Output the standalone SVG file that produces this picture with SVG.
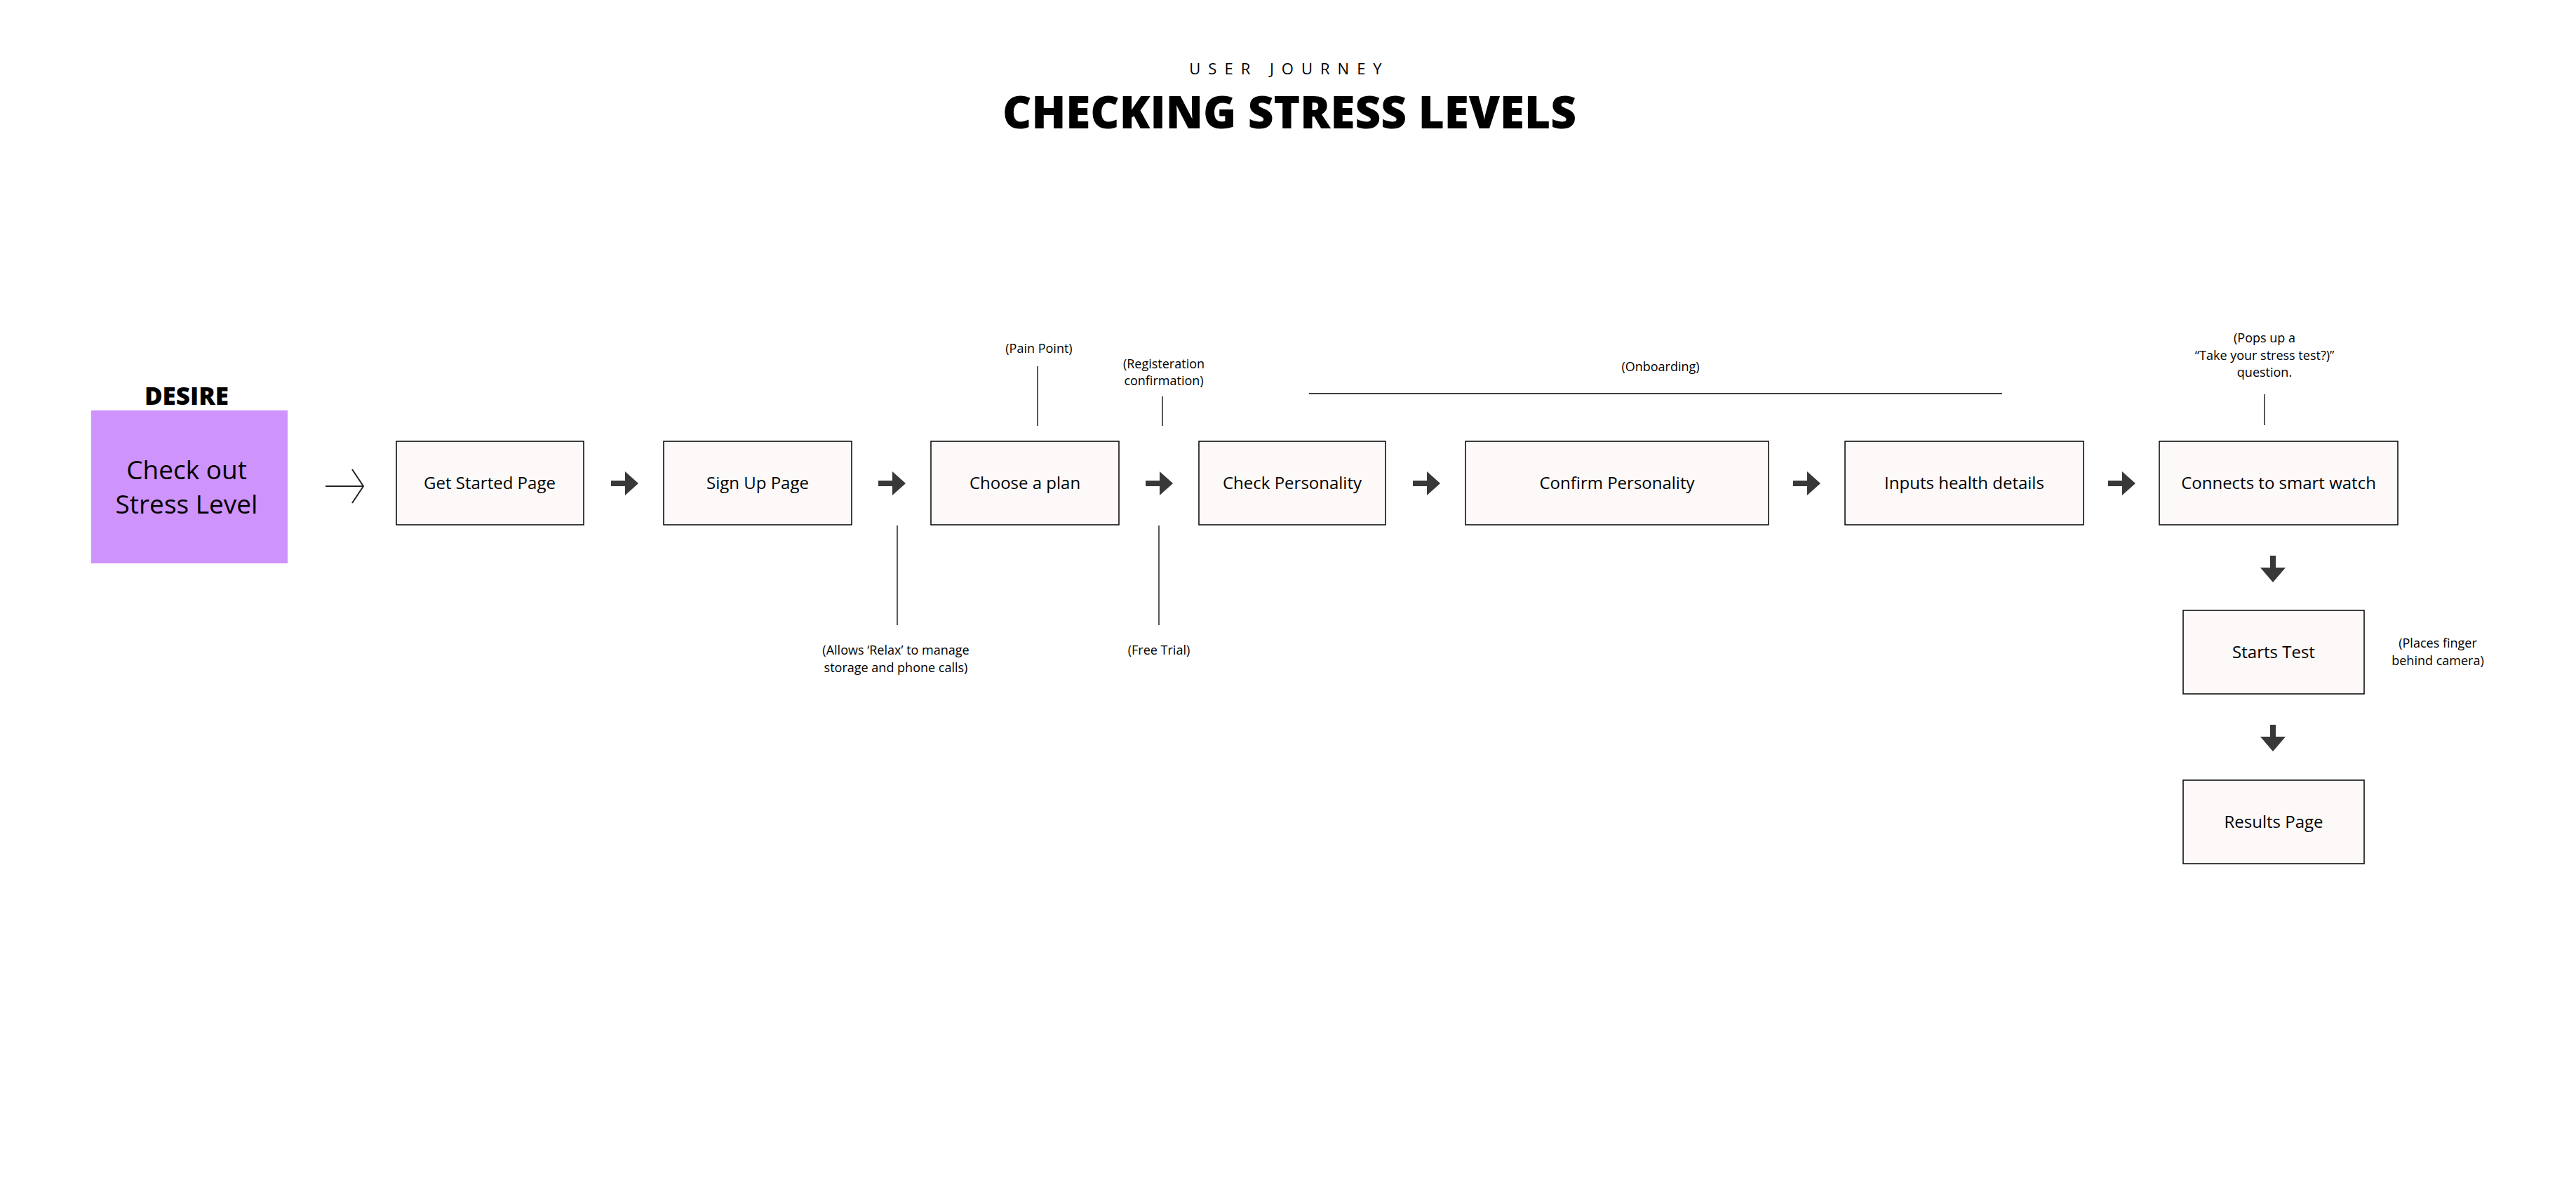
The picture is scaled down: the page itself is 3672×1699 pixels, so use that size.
<svg xmlns="http://www.w3.org/2000/svg" xmlns:xlink="http://www.w3.org/1999/xlink" width="3672" height="1699" viewBox="0 0 3672 1699">
<style>
text{font-family:"Open Sans","Noto Sans","Liberation Sans",sans-serif;fill:#000;text-anchor:middle}
.box{fill:#FCF9F8;stroke:#000;stroke-width:1.5}
.lbl{font-size:24px}
.note{font-size:18px}
.ln{stroke:#000;stroke-width:1.3;fill:none}
.arw{fill:#383838}
</style>
<defs>
<path id="ar" d="M0,-4 H20 V-17 L39,0 L20,17 V4 H0 Z"/>
<path id="ad" d="M-4,0 V17 H-18 L0,38 L18,17 H4 V0 Z"/>
</defs>
<rect width="3672" height="1699" fill="#fff"/>
<text x="1838" y="106" font-size="22" letter-spacing="11">USER JOURNEY</text>
<text x="1838" y="183" font-size="64" font-weight="800" textLength="818" lengthAdjust="spacingAndGlyphs">CHECKING STRESS LEVELS</text>

<g id="desire">
<text x="266" y="577" font-size="35" font-weight="800">DESIRE</text>
<rect x="130" y="585" width="280" height="218" fill="#CF93FC"/>
<text x="266" y="683" font-size="37">Check out</text>
<text x="266" y="732" font-size="37">Stress Level</text>
</g>
<g id="get-started"><rect class="box" x="565" y="629" width="267" height="119"/><text class="lbl" x="698" y="697">Get Started Page</text></g>
<g id="sign-up"><rect class="box" x="946" y="629" width="268" height="119"/><text class="lbl" x="1080" y="697">Sign Up Page</text></g>
<g id="choose-plan"><rect class="box" x="1327" y="629" width="268" height="119"/><text class="lbl" x="1461" y="697">Choose a plan</text></g>
<g id="check-personality"><rect class="box" x="1709" y="629" width="266" height="119"/><text class="lbl" x="1842" y="697">Check Personality</text></g>
<g id="confirm-personality"><rect class="box" x="2089" y="629" width="432" height="119"/><text class="lbl" x="2305" y="697">Confirm Personality</text></g>
<g id="inputs-health"><rect class="box" x="2630" y="629" width="340" height="119"/><text class="lbl" x="2800" y="697">Inputs health details</text></g>
<g id="smart-watch"><rect class="box" x="3078" y="629" width="340" height="119"/><text class="lbl" x="3248" y="697">Connects to smart watch</text></g>
<g id="starts-test"><rect class="box" x="3112" y="870" width="258" height="119"/><text class="lbl" x="3241" y="938">Starts Test</text></g>
<g id="results"><rect class="box" x="3112" y="1112" width="258" height="119"/><text class="lbl" x="3241" y="1180">Results Page</text></g>

<g id="notes">
<text class="note" x="1481" y="503">(Pain Point)</text>
<text class="note" x="1659" y="525">(Registeration</text>
<text class="note" x="1659" y="549">confirmation)</text>
<text class="note" x="2367" y="529">(Onboarding)</text>
<text class="note" x="3228" y="488">(Pops up a</text>
<text class="note" x="3228" y="513">“Take your stress test?)”</text>
<text class="note" x="3228" y="537">question.</text>
<text class="note" x="1277" y="933">(Allows ‘Relax’ to manage</text>
<text class="note" x="1277" y="958">storage and phone calls)</text>
<text class="note" x="1652" y="933">(Free Trial)</text>
<text class="note" x="3475" y="923">(Places finger</text>
<text class="note" x="3475" y="948">behind camera)</text>
</g>

<g id="connectors">
<path d="M464,693 H518 M502,669 L518,693 L502,717" stroke="#222" stroke-width="2" fill="none"/>
<use href="#ar" class="arw" x="871" y="689"/>
<use href="#ar" class="arw" x="1252" y="689"/>
<use href="#ar" class="arw" x="1633" y="689"/>
<use href="#ar" class="arw" x="2014" y="689"/>
<use href="#ar" class="arw" x="2556" y="689"/>
<use href="#ar" class="arw" x="3005" y="689"/>
<use href="#ad" class="arw" x="3240" y="792"/>
<use href="#ad" class="arw" x="3240" y="1033"/>
<line class="ln" x1="1479" y1="522" x2="1479" y2="607"/>
<line class="ln" x1="1657" y1="565" x2="1657" y2="607"/>
<line class="ln" x1="1866" y1="561" x2="2854" y2="561"/>
<line class="ln" x1="3228" y1="562" x2="3228" y2="606"/>
<line class="ln" x1="1279" y1="749" x2="1279" y2="891"/>
<line class="ln" x1="1652" y1="749" x2="1652" y2="891"/>
</g>
</svg>
